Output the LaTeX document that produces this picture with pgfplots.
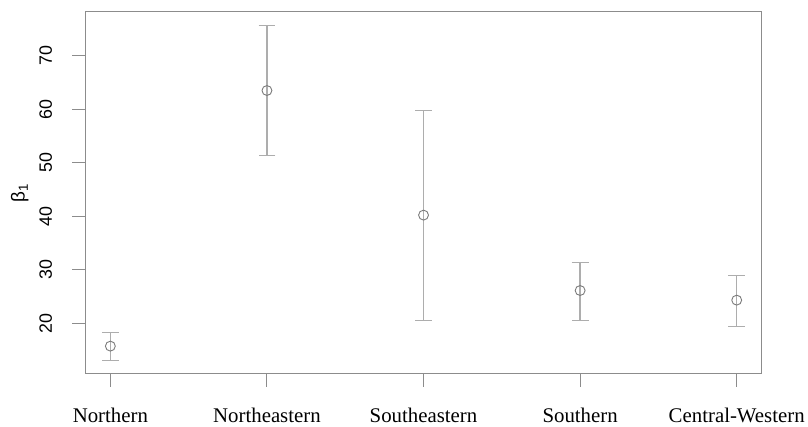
\documentclass[border=0pt]{standalone}
\usepackage{pgfplots}
\pgfplotsset{compat=1.18}
\usepackage{fontspec}
\setmainfont{Liberation Serif}
\newfontfamily\arial{Liberation Sans}
\definecolor{boxgray}{HTML}{8C8C8C}
\definecolor{bargray}{HTML}{ADADAD}
\definecolor{markgray}{HTML}{7A7A7A}
\begin{document}
\begin{tikzpicture}[x=1pt,y=1pt]
\begin{axis}[
  name=ax,
  scale only axis,
  width=682pt, height=365pt,
  xmin=-0.16, xmax=4.16,
  ymin=10.5, ymax=78.2,
  axis line style={boxgray, line width=1pt},
  xtick={0,1,2,3,4},
  xticklabels={Northern,Northeastern,Southeastern,Southern,Central-Western},
  ytick={20,30,40,50,60,70},
  tick align=outside,
  tick pos=left,
  major tick length=13pt,
  tick style={boxgray, line width=1pt},
  xticklabel style={font=\fontsize{21}{21}\selectfont, yshift=-18pt},
  yticklabel style={font=\arial\fontsize{18}{18}\selectfont, rotate=90, anchor=south, yshift=17pt},
  ylabel={\arial\fontsize{19}{19}\selectfont β\textsubscript{1}},
  ylabel style={at={(axis description cs:0,0.5)}, anchor=center, yshift=66pt},
  /pgf/number format/assume math mode=true,
]
\addplot[only marks, mark=o, mark size=5pt, mark options={markgray, line width=0.9pt},
  error bars/.cd, y dir=both, y explicit,
  error bar style={bargray, line width=1.4pt},
  error mark options={rotate=90, mark size=8.5pt, bargray, line width=1.4pt}]
  table[x=x, y=y, y error plus=ep, y error minus=em] {
x y ep em
0 15.7 2.6 2.7
1 63.5 12.2 12.2
2 40.2 19.6 19.7
3 26.1 5.2 5.6
4 24.3 4.6 4.9
};
\end{axis}
\path (ax.south west) ++(-86pt,-51pt) coordinate (bl);
\path (ax.north east) ++(40pt,12pt) coordinate (tr);
\path (bl) rectangle (tr);
\end{tikzpicture}
\end{document}
